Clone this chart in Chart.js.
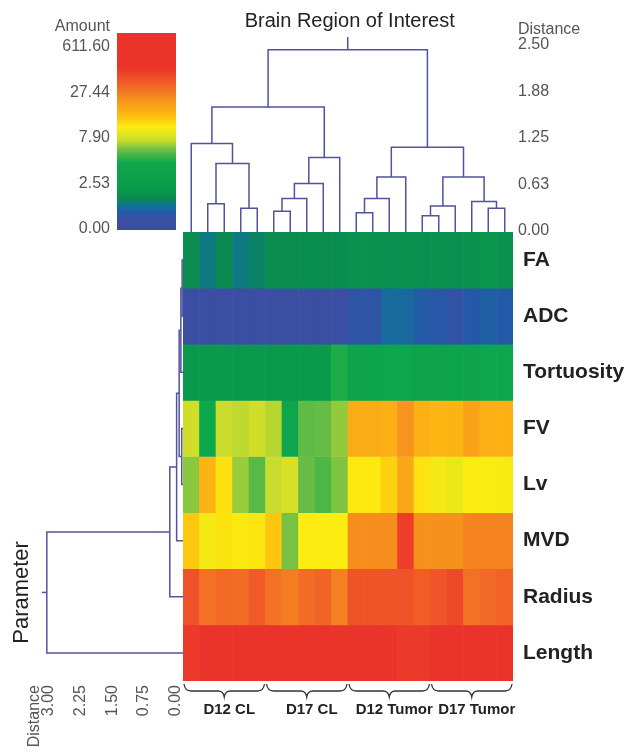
<!DOCTYPE html>
<html>
<head>
<meta charset="utf-8">
<script src="https://cdn.jsdelivr.net/npm/chart.js@4.4.0/dist/chart.umd.min.js"></script>
<style>
  html, body { margin: 0; padding: 0; background: #fff; }
  #page { position: relative; width: 631px; height: 752px; overflow: hidden; }
  canvas { position: absolute; }
</style>
</head>
<body>
<div id="page">
  <canvas id="scaleCanvas" width="183" height="246" style="left:0;top:0"></canvas>
  <canvas id="colTreeCanvas" width="448" height="246" style="left:183px;top:0"></canvas>
  <canvas id="rowTreeCanvas" width="183" height="520" style="left:0;top:232px"></canvas>
  <canvas id="heatCanvas" width="448" height="520" style="left:183px;top:232px"></canvas>
</div>
<script>
// rows (parameters) top to bottom, columns in dendrogram leaf order
const rowNames = ['FA', 'ADC', 'Tortuosity', 'FV', 'Lv', 'MVD', 'Radius', 'Length'];
const groupNames = ['D12 CL', 'D17 CL', 'D12 Tumor', 'D17 Tumor'];
const samplesPerGroup = 5;

const faValues     = [1.67, 1.35, 1.62, 1.35, 1.50, 1.72, 1.72, 1.75, 1.72, 1.75, 1.85, 1.85, 1.80, 1.85, 1.82, 1.85, 1.80, 1.85, 2.05, 1.85];
const adcValues    = [0.30, 0.30, 0.30, 0.30, 0.30, 0.30, 0.30, 0.30, 0.30, 0.30, 0.71, 0.71, 1.11, 1.11, 0.91, 0.81, 0.66, 0.86, 0.96, 0.89];
const tortValues   = [2.12, 2.12, 2.15, 2.12, 2.15, 2.12, 2.20, 2.15, 2.20, 4.40, 3.40, 3.40, 3.80, 3.80, 3.20, 3.20, 3.60, 3.30, 3.80, 3.80];
const fvValues     = [7.55, 4.18, 7.30, 7.05, 7.55, 6.89, 3.80, 5.49, 5.60, 6.30, 16.7, 16.7, 16.3, 21.4, 15.9, 15.1, 15.3, 18.6, 16.3, 15.9];
const lvValues     = [6.15, 15.5, 11.2, 6.40, 5.36, 7.20, 7.90, 5.60, 5.13, 6.00, 10.65, 10.65, 12.4, 17.5, 11.0, 9.60, 9.20, 10.4, 10.2, 10.0];
const mvdValues    = [13.0, 9.80, 10.9, 10.65, 10.8, 13.3, 5.87, 10.4, 10.4, 10.4, 22.5, 22.5, 22.5, 107, 22.0, 22.0, 22.0, 24.8, 24.8, 24.8];
const radiusValues = [65, 31, 38, 35, 51, 31, 26.2, 35, 42, 25.5, 61, 61, 61, 61, 48, 58, 79, 31, 36, 42];
const lengthValues = [125, 420, 420, 450, 420, 430, 420, 420, 440, 420, 420, 430, 420, 120, 120, 420, 420, 430, 420, 420];
const rowValues = [faValues, adcValues, tortValues, fvValues, lvValues, mvdValues, radiusValues, lengthValues];

const amountTicks = [0, 2.53, 7.90, 27.44, 611.60];
const colDistanceTicks = [0, 0.625, 1.25, 1.875, 2.5];
const rowDistanceTicks = [0, 0.75, 1.5, 2.25, 3];

// merges: [a, b, distance]; ids below the leaf count are leaves, the rest are earlier merges
const colMerges = [
  [1, 2, 0.38], [3, 4, 0.32], [20, 21, 0.92], [0, 22, 1.19],
  [5, 6, 0.28], [24, 7, 0.45], [25, 8, 0.65], [26, 9, 1.00], [23, 27, 1.68],
  [10, 11, 0.26], [29, 12, 0.45], [30, 13, 0.74],
  [14, 15, 0.22], [32, 16, 0.35], [18, 19, 0.32], [17, 34, 0.41], [33, 35, 0.74],
  [31, 36, 1.14], [28, 37, 2.45]
];
const colRootTop = 2.62;
const rowMerges = [
  [0, 1, 0.02], [8, 2, 0.05], [3, 4, 0.03], [9, 10, 0.09],
  [11, 5, 0.15], [12, 6, 0.31], [13, 7, 3.20]
];
const rowRootTop = 3.32;

const colorStops = [
  [-0.02, '#3b4ea0'], [0.05, '#3a4fa1'], [0.085, '#2558a8'], [0.12, '#11709a'],
  [0.16, '#0a8a50'], [0.22, '#0a9c4a'], [0.36, '#0ea84c'], [0.43, '#6ebe45'],
  [0.48, '#c9dc2d'], [0.555, '#fdec10'], [0.61, '#fdc010'], [0.70, '#f7941d'],
  [0.80, '#f05a28'], [0.88, '#ea352a'], [1.08, '#eb3129']
];
const treeColor = '#52529e';
const tickColor = '#555';
Chart.defaults.font.family = '"Liberation Sans", Arial, sans-serif';

// amount -> position on the colour bar (0..1), log between the bar's ticks
function amountToT(v) {
  const n = amountTicks.length - 1;
  if (v <= amountTicks[1]) return (v / amountTicks[1]) / n;
  for (let i = 1; i < n; i++) {
    const lo = amountTicks[i], hi = amountTicks[i + 1];
    if (v <= hi || i === n - 1) return (i + Math.log(v / lo) / Math.log(hi / lo)) / n;
  }
}

function hexRgb(h) {
  return [1, 3, 5].map(i => parseInt(h.slice(i, i + 2), 16));
}

function colorAt(t) {
  for (let i = 0; i < colorStops.length - 1; i++) {
    const [t0, c0] = colorStops[i], [t1, c1] = colorStops[i + 1];
    if (t <= t1 || i === colorStops.length - 2) {
      const f = Math.max(0, Math.min(1, (t - t0) / (t1 - t0)));
      const a = hexRgb(c0), b = hexRgb(c1);
      return 'rgb(' + a.map((v, k) => Math.round(v + (b[k] - v) * f)).join(',') + ')';
    }
  }
}

// lay out a dendrogram: leaves at i + 0.5, each merge is a U made of 4 points
function treeSegments(merges, nLeaves, rootTop) {
  const pos = [], hgt = [];
  for (let i = 0; i < nLeaves; i++) { pos.push(i + 0.5); hgt.push(0); }
  const segs = [];
  merges.forEach(([a, b, h]) => {
    segs.push([[pos[a], hgt[a]], [pos[a], h], [pos[b], h], [pos[b], hgt[b]]]);
    pos.push((pos[a] + pos[b]) / 2);
    hgt.push(h);
  });
  const r = pos.length - 1;
  segs.push([[pos[r], hgt[r]], [pos[r], rootTop]]);
  return { segs, rootPos: pos[r] };
}

const colTree = treeSegments(colMerges, faValues.length, colRootTop);
const rowTree = treeSegments(rowMerges, rowNames.length, rowRootTop);

function lineSet(points) {
  return {
    data: points, showLine: true, borderColor: treeColor, borderWidth: 1.5,
    pointRadius: 0, tension: 0, clip: false
  };
}

function noPad(s) { s.paddingLeft = 0; s.paddingRight = 0; s.paddingTop = 0; s.paddingBottom = 0; }

// ---- colour bar ----
const barLo = -0.011, barHi = 1.071;
new Chart(document.getElementById('scaleCanvas'), {
  type: 'bar',
  data: {
    labels: ['Amount'],
    datasets: [{
      data: [[barLo, barHi]],
      barPercentage: 1, categoryPercentage: 1, borderWidth: 0,
      backgroundColor(c) {
        const chart = c.chart;
        if (!chart.chartArea) return null;
        const y = chart.scales.y;
        const g = chart.ctx.createLinearGradient(0, y.getPixelForValue(barLo), 0, y.getPixelForValue(barHi));
        colorStops.forEach(([t, col]) => {
          g.addColorStop(Math.max(0, Math.min(1, (t - barLo) / (barHi - barLo))), col);
        });
        return g;
      }
    }]
  },
  options: {
    responsive: false, animation: false,
    layout: { padding: { top: 33, right: 7, bottom: 16 } },
    plugins: { legend: { display: false }, tooltip: { enabled: false } },
    scales: {
      x: { display: false },
      y: {
        min: barLo, max: barHi,
        afterBuildTicks: s => { s.ticks = amountTicks.map((v, i) => ({ value: i / (amountTicks.length - 1) })); },
        afterFit: s => { s.width = 117; noPad(s); },
        grid: { display: false, drawTicks: false }, border: { display: false },
        ticks: {
          padding: 7, labelOffset: 1, color: tickColor, font: { size: 16 },
          callback: (v, i) => amountTicks[i].toFixed(2)
        }
      }
    }
  },
  plugins: [{
    id: 'amountTitle',
    afterDraw(chart) {
      const { ctx, scales: { y } } = chart;
      ctx.save();
      ctx.font = '16px "Liberation Sans", Arial, sans-serif';
      ctx.fillStyle = tickColor;
      ctx.textAlign = 'right';
      ctx.textBaseline = 'middle';
      ctx.fillText('Amount', y.right - 7, y.getPixelForValue(1) - 19);
      ctx.restore();
    }
  }]
});

// ---- column dendrogram ----
new Chart(document.getElementById('colTreeCanvas'), {
  type: 'scatter',
  data: { datasets: colTree.segs.map(s => lineSet(s.map(([p, h]) => ({ x: p, y: h })))) },
  options: {
    responsive: false, animation: false,
    layout: { padding: { top: 37, bottom: 14 } },
    plugins: { legend: { display: false }, tooltip: { enabled: false } },
    scales: {
      x: { type: 'linear', min: 0, max: faValues.length, display: false },
      y: {
        type: 'linear', position: 'right', min: 0, max: colRootTop,
        afterBuildTicks: s => { s.ticks = colDistanceTicks.map(v => ({ value: v })); },
        afterFit: s => { s.width = 118; noPad(s); },
        grid: { display: false, drawTicks: false }, border: { display: false },
        ticks: { padding: 5, labelOffset: -1, color: tickColor, font: { size: 16 }, callback: v => v.toFixed(2) }
      }
    }
  },
  plugins: [{
    id: 'colTitles',
    afterDraw(chart) {
      const { ctx, scales: { x, y } } = chart;
      ctx.save();
      ctx.font = '20px "Liberation Sans", Arial, sans-serif';
      ctx.fillStyle = '#222';
      ctx.textAlign = 'center';
      ctx.textBaseline = 'middle';
      ctx.fillText('Brain Region of Interest', x.getPixelForValue(colTree.rootPos) + 2, 21);
      ctx.font = '16px "Liberation Sans", Arial, sans-serif';
      ctx.fillStyle = tickColor;
      ctx.textAlign = 'left';
      ctx.fillText('Distance', y.left + 5, y.getPixelForValue(2.5) - 16);
      ctx.restore();
    }
  }]
});

// ---- row dendrogram ----
new Chart(document.getElementById('rowTreeCanvas'), {
  type: 'scatter',
  data: { datasets: rowTree.segs.map(s => lineSet(s.map(([p, h]) => ({ x: h, y: p })))) },
  options: {
    responsive: false, animation: false,
    layout: { padding: { left: 40 } },
    plugins: { legend: { display: false }, tooltip: { enabled: false } },
    scales: {
      x: {
        type: 'linear', reverse: true, min: 0, max: 3.36,
        afterBuildTicks: s => { s.ticks = rowDistanceTicks.map(v => ({ value: v })); },
        afterFit: s => { s.height = 71; noPad(s); },
        grid: { display: false, drawTicks: false }, border: { display: false },
        ticks: {
          minRotation: 90, maxRotation: 90, labelOffset: -7, padding: 4,
          color: tickColor, font: { size: 16 }, callback: v => v.toFixed(2)
        }
      },
      y: { type: 'linear', reverse: true, min: 0, max: rowNames.length, display: false }
    }
  },
  plugins: [{
    id: 'rowTitles',
    afterDraw(chart) {
      const { ctx, scales: { x, y }, chartArea } = chart;
      ctx.save();
      ctx.fillStyle = '#222';
      ctx.font = '22px "Liberation Sans", Arial, sans-serif';
      ctx.textAlign = 'center';
      ctx.textBaseline = 'middle';
      ctx.translate(22, y.getPixelForValue(rowTree.rootPos));
      ctx.rotate(-Math.PI / 2);
      ctx.fillText('Parameter', 0, 0);
      ctx.restore();
      ctx.save();
      ctx.fillStyle = tickColor;
      ctx.font = '16px "Liberation Sans", Arial, sans-serif';
      ctx.textAlign = 'right';
      ctx.textBaseline = 'middle';
      ctx.translate(x.getPixelForValue(3) - 7 - 14, chartArea.bottom + 4);
      ctx.rotate(-Math.PI / 2);
      ctx.fillText('Distance', 0, 0);
      ctx.restore();
    }
  }]
});

// ---- heat map ----
const sampleLabels = faValues.map((v, i) =>
  i % samplesPerGroup === Math.floor(samplesPerGroup / 2) ? groupNames[Math.floor(i / samplesPerGroup)] : '');

const bracePlugin = {
  id: 'braces',
  afterDraw(chart) {
    const { ctx, scales: { x }, chartArea } = chart;
    const half = (x.getPixelForValue(1) - x.getPixelForValue(0)) / 2;
    const y0 = chartArea.bottom + 3, y1 = y0 + 7, y2 = y0 + 13;
    ctx.save();
    ctx.strokeStyle = '#333';
    ctx.lineWidth = 1.3;
    groupNames.forEach((g, k) => {
      const x0 = x.getPixelForValue(k * samplesPerGroup) - half + 1;
      const x1 = x.getPixelForValue((k + 1) * samplesPerGroup - 1) + half - 1;
      const xm = (x0 + x1) / 2;
      ctx.beginPath();
      ctx.moveTo(x0, y0);
      ctx.quadraticCurveTo(x0 + 1, y1, x0 + 7, y1);
      ctx.lineTo(xm - 6, y1);
      ctx.quadraticCurveTo(xm - 1, y1, xm, y2);
      ctx.quadraticCurveTo(xm + 1, y1, xm + 6, y1);
      ctx.lineTo(x1 - 7, y1);
      ctx.quadraticCurveTo(x1 - 1, y1, x1, y0);
      ctx.stroke();
    });
    ctx.restore();
  }
};

new Chart(document.getElementById('heatCanvas'), {
  type: 'bar',
  data: {
    labels: sampleLabels,
    datasets: rowNames.map((name, r) => ({
      label: name,
      data: rowValues[r].map(() => [r, r + 1]),
      backgroundColor: rowValues[r].map(v => colorAt(amountToT(v))),
      grouped: false, barPercentage: 1, categoryPercentage: 1, borderWidth: 0
    }))
  },
  options: {
    responsive: false, animation: false,
    plugins: { legend: { display: false }, tooltip: { enabled: false } },
    scales: {
      x: {
        afterFit: s => { s.height = 71; noPad(s); },
        grid: { display: false, drawTicks: false }, border: { display: false },
        ticks: { autoSkip: false, maxRotation: 0, padding: 20, labelOffset: 5, color: '#222', font: { size: 15, weight: 'bold' } }
      },
      y: { type: 'linear', min: 0, max: rowNames.length, reverse: true, display: false },
      rows: {
        type: 'category', labels: rowNames, position: 'right', offset: true,
        afterFit: s => { s.width = 118; noPad(s); },
        grid: { display: false, drawTicks: false }, border: { display: false },
        ticks: { padding: 10, color: '#222', font: { size: 21, weight: 'bold' } }
      }
    }
  },
  plugins: [bracePlugin]
});
</script>
</body>
</html>
